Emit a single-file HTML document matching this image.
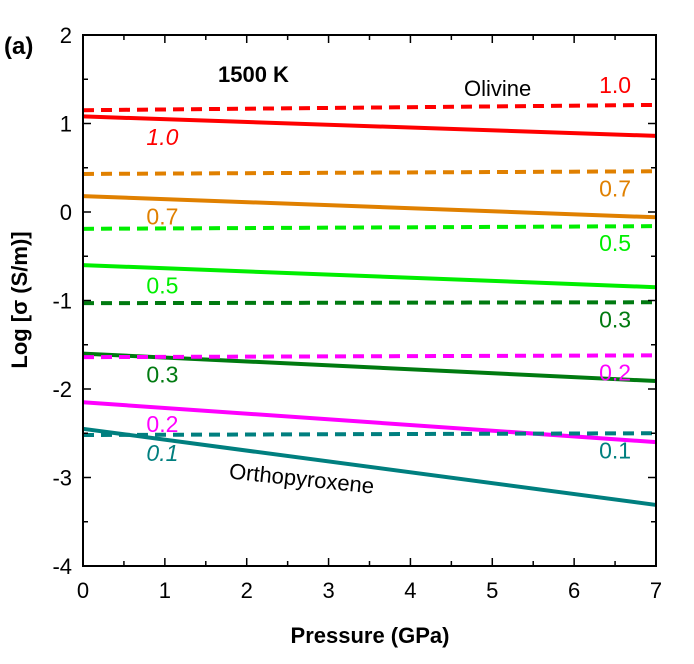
<!DOCTYPE html>
<html><head><meta charset="utf-8"><style>
body{margin:0;background:#fff;}
svg text{font-family:"Liberation Sans",Arial,sans-serif;}
</style></head><body>
<svg id="chart" width="694" height="659" xmlns="http://www.w3.org/2000/svg">
<g id="lines"></g>
<g id="axes"></g>
<text x="4" y="54" font-size="24" font-weight="bold">(a)</text>
<text x="218" y="82" font-size="22" font-weight="bold">1500 K</text>
<text x="464" y="96" font-size="22">Olivine</text>
<text x="228" y="488" font-size="22" transform="rotate(6 320 488)">Orthopyroxene</text>
<text x="370" y="643" font-size="22" font-weight="bold" text-anchor="middle">Pressure (GPa)</text>
<text transform="translate(27 300) rotate(-90)" font-size="22" font-weight="bold" text-anchor="middle">Log [σ (S/m)]</text>
</svg>
<script>
const xTicks=[0,1,2,3,4,5,6,7];
const yTicks=[-4,-3,-2,-1,0,1,2];
const pressures=[0,7];
const seriesNames=["1.0","0.7","0.5","0.3","0.2","0.1"];
const colors=["#ff0000","#e08000","#00ee00","#007a10","#ff00ff","#007f7f"];
const olivineVals=[[1.15,1.21],[0.43,0.46],[-0.19,-0.16],[-1.03,-1.02],[-1.64,-1.62],[-2.52,-2.50]];
const opxVals=[[1.08,0.86],[0.18,-0.06],[-0.60,-0.85],[-1.60,-1.91],[-2.15,-2.60],[-2.45,-3.31]];
const X0=83,X1=656,Y0=566,Y1=35;
const sx=v=>X0+(v-0)/7*(X1-X0);
const sy=v=>Y0-(v+4)/6*(Y0-Y1);
const NS="http://www.w3.org/2000/svg";
const L=document.getElementById('lines'),A=document.getElementById('axes');
function mk(t,at,p){const e=document.createElementNS(NS,t);for(const k in at)e.setAttribute(k,at[k]);p.appendChild(e);return e;}
seriesNames.forEach((n,i)=>{
 let d=mk('line',{x1:sx(pressures[0]),y1:sy(olivineVals[i][0]),x2:sx(pressures[1]),y2:sy(olivineVals[i][1]),stroke:colors[i],'stroke-width':4,'stroke-dasharray':'11 7'},L);
 
 
 let s=mk('line',{x1:sx(pressures[0]),y1:sy(opxVals[i][0]),x2:sx(pressures[1]),y2:sy(opxVals[i][1]),stroke:colors[i],'stroke-width':4},L);
 
 
 let t1=mk('text',{x:sx(6.5),y:sy(olivineVals[i][1])-(i==0?12:-25),'font-size':23,fill:colors[i],'text-anchor':'middle'},L);
 t1.textContent=n;
 
 
 let t2=mk('text',{x:sx(0.97),y:sy(opxVals[i][0]*0.93+opxVals[i][1]*0.07)+27,'font-size':23,fill:colors[i],'text-anchor':'middle','font-style':(i==0||i==5)?'italic':'normal'},L);
 t2.textContent=n;
 
 
});
let fr=mk('rect',{x:X0,y:Y1,width:X1-X0,height:Y0-Y1,fill:'none',stroke:'#000','stroke-width':2},A);


for(let v=0;v<=7;v+=0.5){const big=v%1==0;
 mk('line',{x1:sx(v),y1:Y0,x2:sx(v),y2:Y0-(big?8:5),stroke:'#000','stroke-width':1.5},A);
 mk('line',{x1:sx(v),y1:Y1,x2:sx(v),y2:Y1+(big?8:5),stroke:'#000','stroke-width':1.5},A);}
xTicks.forEach(v=>{const t=mk('text',{x:sx(v),y:Y0+32,'font-size':22,'text-anchor':'middle'},A);t.textContent=v;
 
 });
for(let v=-4;v<=2;v+=0.5){const big=v%1==0;
 mk('line',{x1:X0,y1:sy(v),x2:X0+(big?8:5),y2:sy(v),stroke:'#000','stroke-width':1.5},A);
 mk('line',{x1:X1,y1:sy(v),x2:X1-(big?8:5),y2:sy(v),stroke:'#000','stroke-width':1.5},A);}
yTicks.forEach(v=>{const t=mk('text',{x:X0-11,y:sy(v)+8,'font-size':22,'text-anchor':'end'},A);t.textContent=v;
 
 });
</script>
</body></html>
